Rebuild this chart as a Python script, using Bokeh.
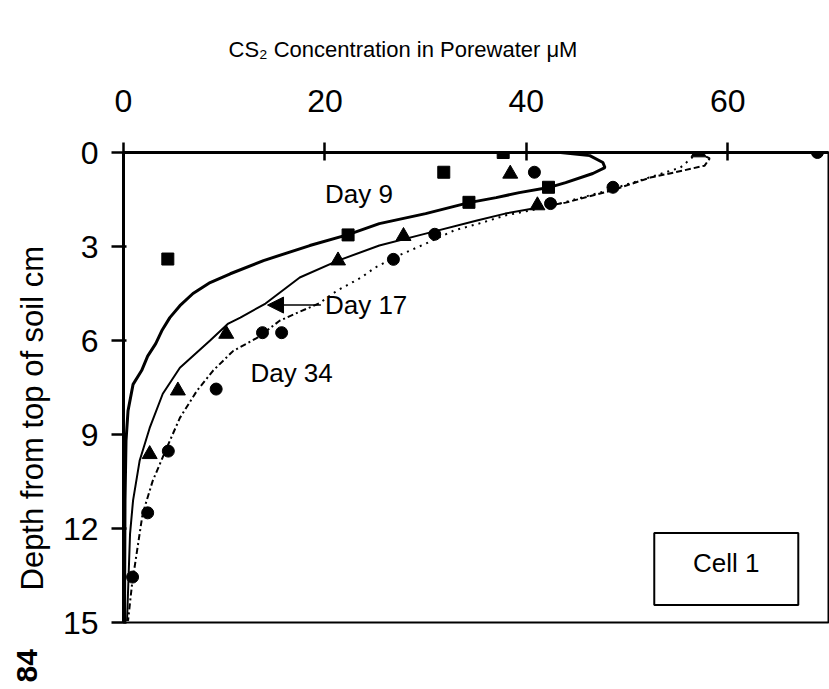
import math
from bokeh.plotting import figure
from bokeh.models import Range1d, FixedTicker, Label, BoxAnnotation, Arrow, NormalHead, Title
from bokeh.embed import file_html
from bokeh.resources import INLINE

# ---------------- data ----------------
x_ticks = [0, 20, 40, 60]
y_ticks = [0, 3, 6, 9, 12, 15]

# observed points
day9_conc = [37.7, 31.8, 42.2, 34.3, 22.3, 4.4]
day9_depth = [0.0, 0.63, 1.11, 1.59, 2.63, 3.40]

day17_conc = [57.1, 38.4, 41.1, 27.8, 21.3, 10.2, 5.4, 2.6]
day17_depth = [0.0, 0.68, 1.69, 2.67, 3.45, 5.79, 7.6, 9.63]

day34_conc = [68.9, 40.8, 48.6, 42.4, 30.9, 26.8, 13.8, 15.7, 9.2, 4.45, 2.4, 0.9]
day34_depth = [0.0, 0.63, 1.11, 1.63, 2.61, 3.41, 5.75, 5.75, 7.55, 9.53, 11.5, 13.55]

# model curves
day9_model_conc = [43.4, 46.3, 47.6, 47.8, 46.6, 43.9, 42.2, 39.3, 37.0, 34.3, 30.0, 25.4,
                   22.3, 18.5, 13.9, 10.6, 8.6, 6.9, 5.6, 4.6, 3.8, 3.2, 2.4, 1.8, 0.95,
                   0.45, 0.25, 0.15, 0.1]
day9_model_depth = [0.0, 0.10, 0.32, 0.48, 0.67, 0.96, 1.12, 1.28, 1.44, 1.60, 1.95, 2.27,
                    2.62, 2.97, 3.45, 3.87, 4.15, 4.50, 4.89, 5.27, 5.69, 6.10, 6.50, 6.96,
                    7.40, 8.24, 9.20, 11.1, 15.0]

day17_model_conc = [57.05, 58.2, 57.7, 55.5, 52.3, 48.5, 43.9, 41.1, 37.9, 35.1, 30.0, 25.4,
                    21.3, 17.5, 14.1, 11.6, 10.4, 8.6, 5.6, 3.9, 2.6, 1.6, 0.95, 0.65, 0.35]
day17_model_depth = [0.0, 0.19, 0.42, 0.58, 0.80, 1.21, 1.60, 1.76, 1.95, 2.17, 2.59, 2.97,
                     3.45, 3.99, 4.82, 5.27, 5.46, 6.00, 6.87, 7.70, 8.79, 9.84, 11.1, 12.17, 14.95]

day34_model_conc = [57.05, 55.3, 51.3, 47.3, 43.3, 40.4, 37.9, 35.6, 32.8, 30.0, 27.3, 25.0,
                    23.6, 21.2, 19.4, 17.5, 15.5, 13.3, 10.9, 8.9, 7.3, 5.6, 4.3, 2.9, 1.9,
                    1.3, 0.85, 0.45]
day34_model_depth = [0.0, 0.48, 0.89, 1.28, 1.63, 1.85, 2.01, 2.24, 2.49, 2.91, 3.29, 3.67,
                     3.99, 4.41, 4.82, 5.08, 5.37, 5.91, 6.33, 6.96, 7.60, 8.47, 9.42, 10.48,
                     11.53, 12.81, 13.77, 14.95]

labels = ["Day 9", "Day 17", "Day 34"]
label_x = [20.0, 20.0, 12.6]
label_y = [1.31, 4.87, 7.03]

FONT = "Liberation Sans"

p = figure(width=829, height=689, x_range=Range1d(0, 70), y_range=Range1d(15, 0),
           output_backend="svg", toolbar_location=None, x_axis_location="above",
           min_border_left=123, min_border_right=1, min_border_top=152, min_border_bottom=67)
p.background_fill_color = "white"
p.border_fill_color = "white"
p.grid.visible = False
p.outline_line_color = "black"
p.outline_line_width = 2

# title (acts as the top axis label)
p.title.text = "CS\u2082 Concentration in Porewater \u03bcM"
p.title.text_font = FONT
p.title.text_font_size = "22px"
p.title.text_font_style = "normal"
p.title.text_color = "black"
p.title.align = "left"
p.title.offset = 105
p.title.standoff = 50

# top axis
xa = p.xaxis[0]
xa.ticker = FixedTicker(ticks=x_ticks)
xa.axis_line_width = 3
xa.major_tick_line_width = 2.5
xa.major_tick_in = 8
xa.major_tick_out = 10
xa.minor_tick_line_color = None
xa.major_label_standoff = 31
xa.major_label_text_font = FONT
xa.major_label_text_font_size = "32px"
xa.major_label_text_color = "black"

# left axis
ya = p.yaxis[0]
ya.ticker = FixedTicker(ticks=y_ticks)
ya.axis_line_width = 3
ya.major_tick_line_width = 2.5
ya.major_tick_in = 3
ya.major_tick_out = 12
ya.minor_tick_line_color = None
ya.major_label_standoff = 13
ya.major_label_text_font = FONT
ya.major_label_text_font_size = "32px"
ya.major_label_text_color = "black"

# y axis label as a side title, shifted down like the reference
p.add_layout(Title(text="Depth from top of soil cm", text_font=FONT, text_font_size="31px",
                   text_font_style="normal", text_color="black", align="left",
                   offset=32, standoff=19), "left")

# page number in the scan margin
p.add_layout(Title(text="84", text_font=FONT, text_font_size="30px",
                   text_font_style="bold", text_color="black", align="left",
                   offset=-60, standoff=-66), "left")

# model curves
p.line(day9_model_conc, day9_model_depth, line_color="black", line_width=3)
k17 = 7
p.line(day17_model_conc[:k17 + 1], day17_model_depth[:k17 + 1], line_color="black",
       line_width=2, line_dash="6 3")
p.line(day17_model_conc[k17:], day17_model_depth[k17:], line_color="black", line_width=2)
k34 = 14
p.line(day34_model_conc[:k34 + 1], day34_model_depth[:k34 + 1], line_color="black",
       line_width=2, line_dash="2 5")
p.line(day34_model_conc[k34:], day34_model_depth[k34:], line_color="black",
       line_width=2, line_dash="6 3 2 3")

# observed points
p.scatter(day9_conc, day9_depth, marker="square", size=12, color="black")
p.scatter(day17_conc, day17_depth, marker="triangle", size=15, color="black")
p.scatter(day34_conc, day34_depth, marker="circle", size=12, color="black")

# day labels
for t, lx, ly in zip(labels, label_x, label_y):
    p.add_layout(Label(x=lx, y=ly, text=t, text_font=FONT, text_font_size="26px",
                       text_baseline="middle", text_align="left", text_color="black"))

# arrow to Day 17 curve
p.add_layout(Arrow(x_start=19.6, y_start=4.87, x_end=14.3, y_end=4.87,
                   line_color="black", line_width=1.5,
                   end=NormalHead(size=16, fill_color="black", line_color="black")))

# Cell 1 box
p.add_layout(BoxAnnotation(left=52.7, right=67.0, top=12.14, bottom=14.44,
                           fill_color="white", fill_alpha=1.0,
                           line_color="black", line_alpha=1.0, line_width=2))
p.add_layout(Label(x=59.85, y=13.1, text="Cell 1", text_font=FONT, text_font_size="26px",
                   text_baseline="middle", text_align="center", text_color="black"))

open("out.html", "w").write(file_html(p, INLINE))
